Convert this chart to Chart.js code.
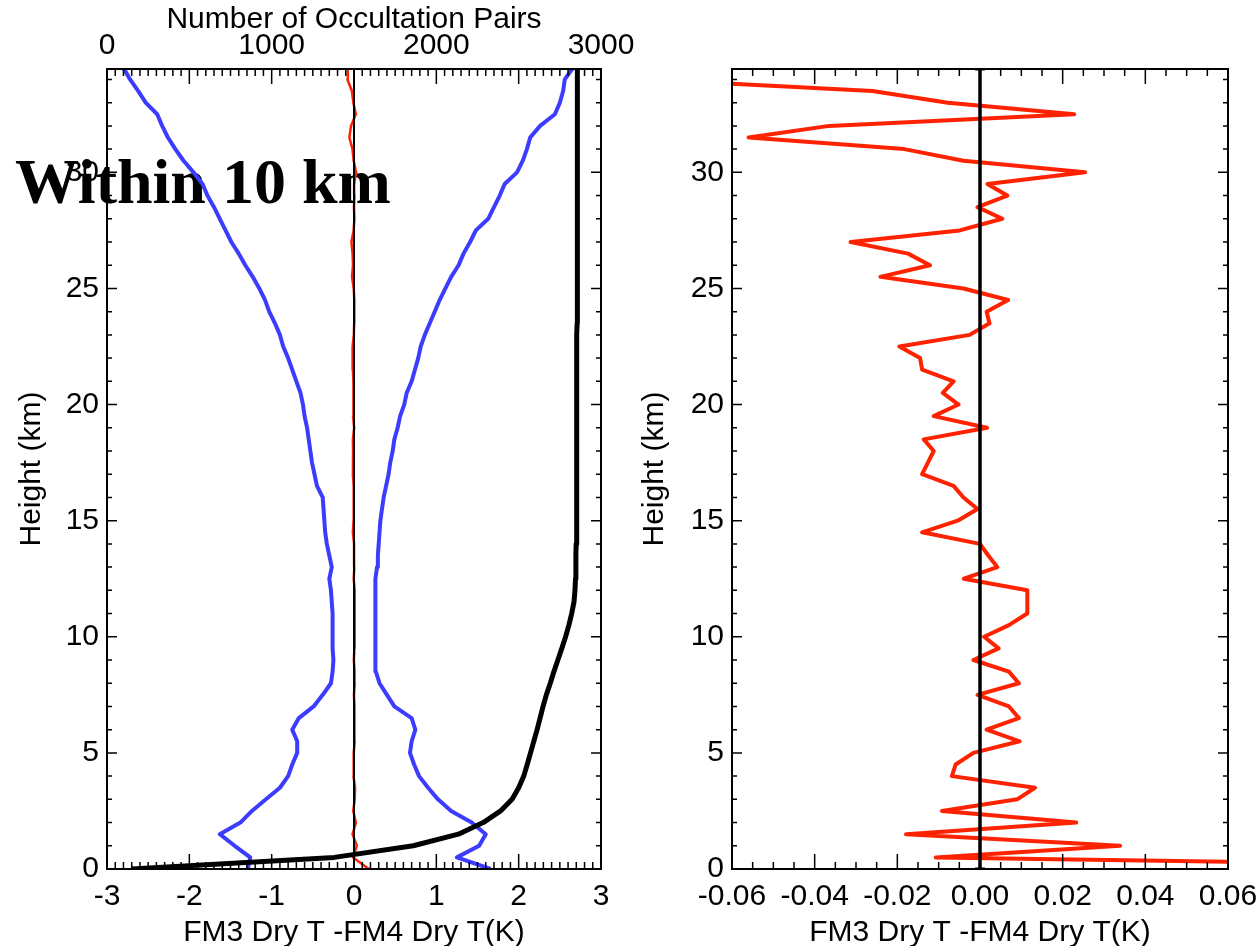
<!DOCTYPE html>
<html><head><meta charset="utf-8">
<script src="https://cdn.jsdelivr.net/npm/chart.js@4.4.1/dist/chart.umd.min.js"></script>
<style>
html,body{margin:0;padding:0;background:#fff;}
#wrap{position:relative;width:1259px;height:946px;overflow:hidden;background:#fff;}
canvas{position:absolute;top:0;}
#c1{left:0;}
#c2{left:620px;}
</style></head><body>
<div id="wrap">
<canvas id="c1" width="660" height="946"></canvas>
<canvas id="c2" width="639" height="946"></canvas>
</div>
<script>
// ---- data (heights in km) ----
const heights = [0,0.5,1,1.5,2,2.5,3,3.5,4,4.5,5,5.5,6,6.5,7,7.5,8,8.5,9,9.5,10,10.5,11,11.5,12,12.5,13,13.5,14,14.5,15,15.5,16,16.5,17,17.5,18,18.5,19,19.5,20,20.5,21,21.5,22,22.5,23,23.5,24,24.5,25,25.5,26,26.5,27,27.5,28,28.5,29,29.5,30,30.5,31,31.5,32,32.5,33,33.5,34,34.5];
// mean FM3 - FM4 dry temperature difference (K)
const meanDiff = [0.18,-0.0107,0.0339,-0.0179,0.0233,-0.0092,0.0090,0.0133,-0.0068,-0.0059,-0.0016,0.0096,0.0016,0.0094,0.0070,-0.0006,0.0094,0.0070,-0.0016,0.0045,0.0010,0.0070,0.0114,0.0115,0.0114,-0.0039,0.0042,0.0020,0.0000,-0.0140,-0.0054,-0.0006,-0.0040,-0.0064,-0.0140,-0.0126,-0.0112,-0.0136,0.0017,-0.0112,-0.0052,-0.0090,-0.0064,-0.0140,-0.0145,-0.0195,-0.0025,0.0023,0.0016,0.0068,-0.0040,-0.0241,-0.0121,-0.0174,-0.0313,-0.0049,0.0054,-0.0006,0.0066,0.0018,0.0254,-0.0040,-0.0183,-0.0560,-0.0365,0.0228,-0.0078,-0.0260,-0.0800,-0.0750];
// mean - std (K)
const lowerBound = [-1.29,-1.26,-1.45,-1.63,-1.38,-1.24,-1.07,-0.90,-0.80,-0.75,-0.69,-0.69,-0.75,-0.67,-0.49,-0.38,-0.28,-0.26,-0.25,-0.26,-0.26,-0.26,-0.26,-0.27,-0.28,-0.30,-0.27,-0.30,-0.33,-0.35,-0.36,-0.37,-0.38,-0.45,-0.48,-0.51,-0.53,-0.55,-0.57,-0.60,-0.62,-0.65,-0.70,-0.75,-0.80,-0.86,-0.90,-0.96,-1.03,-1.08,-1.15,-1.23,-1.32,-1.40,-1.49,-1.56,-1.63,-1.70,-1.78,-1.84,-1.95,-2.07,-2.17,-2.26,-2.33,-2.39,-2.53,-2.62,-2.72,-2.80];
// mean + std (K)
const upperBound = [1.66,1.25,1.52,1.60,1.43,1.18,1.02,0.90,0.79,0.73,0.68,0.70,0.745,0.70,0.49,0.40,0.31,0.265,0.26,0.26,0.26,0.26,0.26,0.26,0.26,0.26,0.28,0.29,0.30,0.31,0.32,0.34,0.36,0.39,0.42,0.44,0.47,0.49,0.53,0.56,0.61,0.64,0.70,0.74,0.78,0.81,0.86,0.92,0.98,1.04,1.11,1.18,1.27,1.33,1.41,1.48,1.63,1.70,1.77,1.83,1.98,2.05,2.10,2.14,2.26,2.44,2.50,2.54,2.56,2.66];
// number of occultation pairs
const pairCounts = [150,1380,1860,2134,2285,2390,2460,2500,2531,2552,2572,2592,2612,2630,2648,2668,2692,2714,2738,2762,2785,2805,2822,2836,2842,2845,2847,2848,2849,2850,2850,2851,2851,2851,2852,2852,2852,2852,2853,2853,2853,2853,2854,2854,2854,2854,2854,2855,2855,2855,2855,2855,2855,2856,2856,2856,2856,2856,2856,2857,2857,2857,2857,2857,2857,2858,2858,2858,2858,2858];
const heightRange = [0, 34.45];
const leftRange = [-3, 3];
const pairRange = [0, 3000];
const rightRange = [-0.06, 0.06];

const BLUE = '#3c3cff', RED = '#ff2200', BLACK = '#000000';
const FONT = '"Liberation Sans", Arial, Helvetica, sans-serif';
Chart.defaults.font.family = FONT;
Chart.defaults.color = '#000';

const toPts = (xs, ys) => xs.map((v, i) => ({x: v, y: ys[i]}));

const framePlugin = {
  id: 'frame',
  afterDatasetsDraw(chart, args, o) {
    const {ctx, chartArea: a} = chart;
    const xs = chart.scales.x, ys = chart.scales.y;
    ctx.save();
    ctx.strokeStyle = '#000';
    ctx.lineWidth = 1.5;
    ctx.beginPath();
    const nx = Math.round((xs.max - xs.min) / o.xMinor);
    const every = Math.round(o.xMajor / o.xMinor);
    for (let i = 0; i <= nx; i++) {
      const px = xs.getPixelForValue(xs.min + i * o.xMinor);
      const len = (i % every === 0) ? 15 : 7;
      ctx.moveTo(px, a.bottom); ctx.lineTo(px, a.bottom - len);
      ctx.moveTo(px, a.top); ctx.lineTo(px, a.top + len);
    }
    const ny = Math.floor(ys.max / o.yMinor + 1e-9);
    const everyY = Math.round(o.yMajor / o.yMinor);
    for (let j = 0; j <= ny; j++) {
      const py = ys.getPixelForValue(j * o.yMinor);
      const len = (j % everyY === 0) ? 10 : 5;
      ctx.moveTo(a.left, py); ctx.lineTo(a.left + len, py);
      ctx.moveTo(a.right, py); ctx.lineTo(a.right - len, py);
    }
    ctx.stroke();
    ctx.lineWidth = 2;
    ctx.strokeRect(a.left, a.top, a.right - a.left, a.bottom - a.top);
    ctx.restore();
  }
};

const labelPlugin = {
  id: 'bigLabel',
  beforeDraw(chart, args, o) {
    if (!o || !o.text) return;
    const ctx = chart.ctx;
    ctx.save();
    ctx.fillStyle = '#000';
    ctx.font = 'bold 64px "Liberation Serif", "Times New Roman", serif';
    ctx.textBaseline = 'alphabetic';
    ctx.fillText(o.text, 15, 203);
    ctx.restore();
  }
};

const tickFont = {size: 30, family: FONT};
const titleFont = {size: 30, family: FONT, lineHeight: 1};

const noPad = s => { s.paddingLeft = 0; s.paddingRight = 0; s.paddingTop = 0; s.paddingBottom = 0; };

function yScale(width, titlePad) {
  return {
    type: 'linear', min: heightRange[0], max: heightRange[1],
    grid: {display: false, drawTicks: false}, border: {display: false},
    ticks: {stepSize: 5, padding: 8, includeBounds: false, autoSkip: false, font: tickFont, color: '#000'},
    title: {display: true, text: 'Height (km)', font: titleFont, color: '#000', padding: {top: titlePad, bottom: 0}},
    afterFit: s => { s.width = width; noPad(s); }
  };
}

// ---------- left chart ----------
new Chart(document.getElementById('c1'), {
  type: 'scatter',
  data: {
    datasets: [
      {label: 'zero', data: heightRange.map(h => ({x: 0, y: h})), borderColor: BLACK, borderWidth: 2, order: 0},
      {label: 'pairs', data: toPts(pairCounts, heights), xAxisID: 'xTop', borderColor: BLACK, borderWidth: 5, order: 1},
      {label: 'mean', data: toPts(meanDiff, heights), borderColor: RED, borderWidth: 2.5, order: 2},
      {label: 'mean-std', data: toPts(lowerBound, heights), borderColor: BLUE, borderWidth: 4, order: 3},
      {label: 'mean+std', data: toPts(upperBound, heights), borderColor: BLUE, borderWidth: 4, order: 3}
    ].map(d => Object.assign({showLine: true, pointRadius: 0, fill: false, tension: 0, borderJoinStyle: 'round'}, d))
  },
  options: {
    responsive: false, animation: false, devicePixelRatio: 1,
    layout: {padding: {left: 0, right: 59, top: 0, bottom: 0}},
    plugins: {legend: {display: false}, tooltip: {enabled: false},
      frame: {xMajor: 1, xMinor: 0.1, yMajor: 5, yMinor: 1},
      bigLabel: {text: 'Within 10 km'}},
    scales: {
      x: {
        type: 'linear', position: 'bottom', min: leftRange[0], max: leftRange[1],
        grid: {display: false, drawTicks: false}, border: {display: false},
        ticks: {stepSize: 1, padding: 10, maxRotation: 0, autoSkip: false, includeBounds: false, font: tickFont, color: '#000'},
        title: {display: true, text: 'FM3 Dry T -FM4 Dry T(K)', font: titleFont, color: '#000', padding: {top: 0, bottom: -2}},
        afterFit: s => { s.height = 77; noPad(s); }
      },
      xTop: {
        type: 'linear', position: 'top', min: pairRange[0], max: pairRange[1],
        grid: {display: false, drawTicks: false}, border: {display: false},
        ticks: {stepSize: 1000, padding: 5, maxRotation: 0, autoSkip: false, includeBounds: false, font: tickFont, color: '#000',
          callback: v => String(Math.round(v))},
        title: {display: true, text: 'Number of Occultation Pairs', font: titleFont, color: '#000', padding: {top: 5, bottom: 0}},
        afterFit: s => { s.height = 69; noPad(s); }
      },
      y: yScale(107, 17)
    }
  },
  plugins: [labelPlugin, framePlugin]
});

// ---------- right chart ----------
new Chart(document.getElementById('c2'), {
  type: 'scatter',
  data: {
    datasets: [
      {label: 'zero', data: heightRange.map(h => ({x: 0, y: h})), borderColor: BLACK, borderWidth: 3.5, order: 0,
       pointRadius: 5, pointStyle: 'line', pointBorderWidth: 3, pointBorderColor: BLACK},
      {label: 'mean', data: toPts(meanDiff, heights), borderColor: RED, borderWidth: 4, order: 1, pointRadius: 0}
    ].map(d => Object.assign({showLine: true, fill: false, tension: 0, borderJoinStyle: 'round'}, d))
  },
  options: {
    responsive: false, animation: false, devicePixelRatio: 1,
    layout: {padding: {left: 0, right: 31, top: 69, bottom: 0}},
    plugins: {legend: {display: false}, tooltip: {enabled: false},
      frame: {xMajor: 0.02, xMinor: 0.005, yMajor: 5, yMinor: 1}},
    scales: {
      x: {
        type: 'linear', position: 'bottom', min: rightRange[0], max: rightRange[1],
        grid: {display: false, drawTicks: false}, border: {display: false},
        ticks: {stepSize: 0.02, padding: 10, maxRotation: 0, autoSkip: false, includeBounds: false, font: tickFont, color: '#000',
          callback: v => (Math.abs(v) < 1e-9 ? 0 : v).toFixed(2)},
        title: {display: true, text: 'FM3 Dry T -FM4 Dry T(K)', font: titleFont, color: '#000', padding: {top: 0, bottom: -2}},
        afterFit: s => { s.height = 77; noPad(s); }
      },
      y: yScale(112, 20)
    }
  },
  plugins: [framePlugin]
});
</script>
</body></html>
